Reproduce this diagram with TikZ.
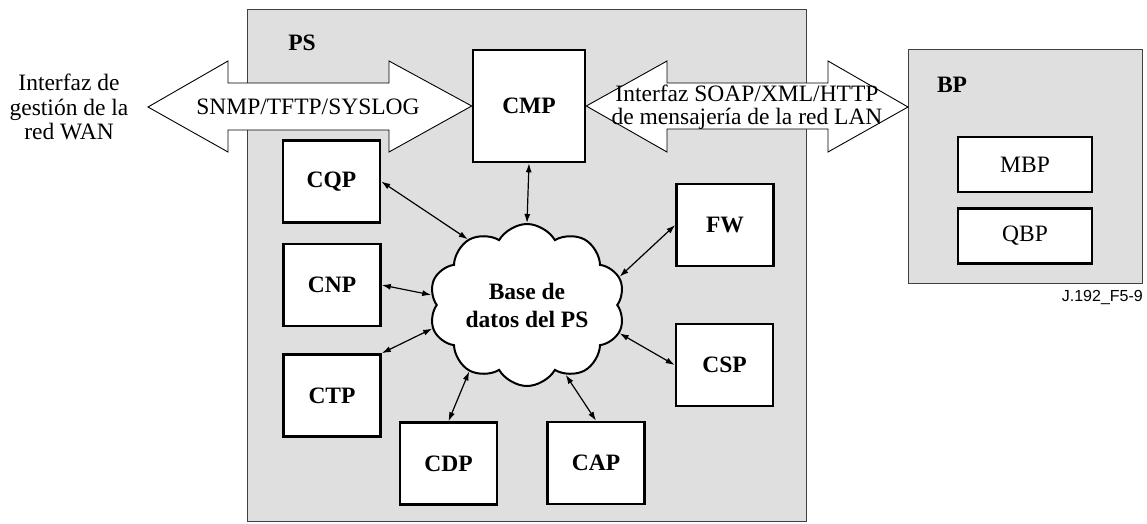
\documentclass[tikz,border=0pt]{standalone}
\usepackage{fontspec}
\setmainfont{Liberation Serif}
\newfontfamily\figsans{Liberation Sans}
\usetikzlibrary{arrows.meta,positioning,shapes.symbols}
\definecolor{panelgray}{RGB}{223,223,223}

\begin{document}
\begin{tikzpicture}[x=1pt,y=-1pt,
  comp/.style={draw,line width=2.6pt,fill=white,minimum width=97pt,minimum height=82pt,inner sep=0pt,font=\fontsize{23.5}{26}\selectfont\bfseries},
  sub/.style={draw,line width=2.6pt,fill=white,minimum width=134pt,minimum height=55pt,inner sep=0pt,font=\fontsize{23.5}{26}\selectfont},
  panel/.style={draw=black!75,line width=1pt,fill=panelgray},
  fat/.style={draw,line width=0.9pt,fill=white},
  link/.style={{Latex[length=9pt,width=6pt]}-{Latex[length=9pt,width=6pt]},line width=1.2pt},
  plain/.style={font=\fontsize{23.5}{24.5}\selectfont,align=center,inner sep=0pt}
]
\useasboundingbox (0,0) rectangle (1147,523);
% PS and BP panels
\draw[panel] (247,9) rectangle (806,521);
\draw[panel] (908,49) rectangle (1142,283);
\node[font=\fontsize{23.5}{26}\selectfont\bfseries] (pslbl) at (302,43) {PS};
\node[font=\fontsize{23.5}{26}\selectfont\bfseries] (bplbl) at (952,85) {BP};

\node[comp,minimum width=112pt,minimum height=112pt] (cmp) at (529,106) {CMP};

% interfaces
\draw[fat] (148,107) -- (228,61) -- (228,83) -- (389,83) -- (389,61) -- (cmp.west)
  -- (389,152) -- (389,130) -- (228,130) -- (228,152) -- cycle;
\draw[fat] (cmp.east) -- (667,61) -- (667,83) -- (828,83) -- (828,61) -- (908,107)
  -- (828,152) -- (828,129) -- (667,129) -- (667,152) -- cycle;
\node[plain] (wanlbl) at (69,107) {Interfaz de\\gestión de la\\red WAN};
\node[plain] (wanproto) at (308,107) {SNMP/TFTP/SYSLOG};
\node[plain,font=\fontsize{23.5}{23}\selectfont] (lanproto) at (747,107) {Interfaz SOAP/XML/HTTP\\de mensajería de la red LAN};

\node[cloud,cloud puffs=10,cloud puff arc=120,aspect=1.26,draw,line width=2pt,fill=white,
  minimum width=196pt,minimum height=155pt,inner sep=0pt,align=center,
  font=\fontsize{23.5}{28}\selectfont\bfseries] (db) at (527,305) {Base de\\datos del PS};

\node[comp] (cqp) at (331.5,181.5) {CQP};
\node[comp] (cnp) at (332,285) {CNP};
\node[comp] (ctp) at (332,395.5) {CTP};
\node[comp] (cdp) at (448.5,463.5) {CDP};
\node[comp] (cap) at (596,463) {CAP};
\node[comp] (fw) at (725,225) {FW};
\node[comp] (csp) at (724.5,365) {CSP};

\node[sub] (mbp) at (1025,164.5) {MBP};
\node[sub,below=14pt of mbp] (qbp) {QBP};

\draw[link] (cmp.south) -- (db.90);
\draw[link] (cqp.east) -- (db.132);
\draw[link] (cnp.east) -- (db.174);
\draw[link] (ctp.north east) -- (db.194);
\draw[link] (cdp.north) -- (db.229);
\draw[link] (cap.north) -- (db.299);
\draw[link] (csp.west) -- (db.343);
\draw[link] (fw.west) -- (db.17);

\node[anchor=east,inner sep=0pt,font=\figsans\fontsize{16}{18}\selectfont] (figid) at (1143,297) {J.192\_F5-9};
\end{tikzpicture}
\end{document}
